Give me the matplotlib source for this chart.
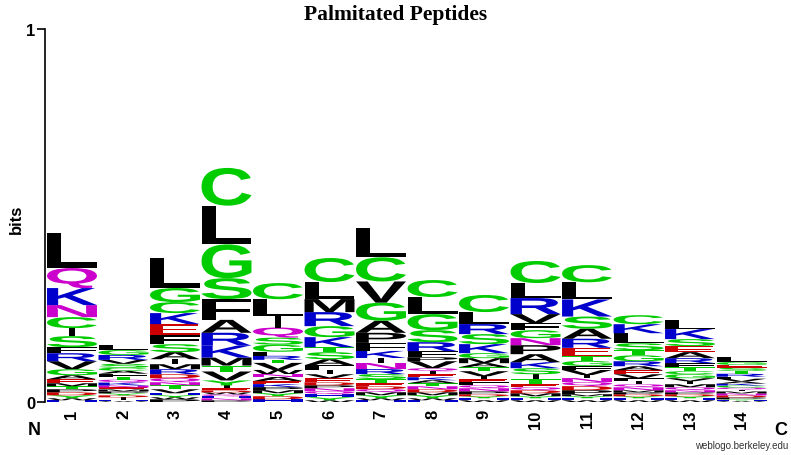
import matplotlib
matplotlib.use("Agg")
import matplotlib.pyplot as plt
from matplotlib.font_manager import FontProperties
from matplotlib.patches import PathPatch
from matplotlib.textpath import TextPath
from matplotlib.transforms import Affine2D

# information content per position (bits)
positions = list(range(1, 15))
column_bits = [0.453, 0.153, 0.386, 0.627, 0.319, 0.386, 0.466,
               0.327, 0.287, 0.378, 0.367, 0.233, 0.220, 0.121]

# residues per position, top of the stack first, with relative frequencies
letters_1 = "LQKNCISFRVGAEMTPDYWH"
weights_1 = [35, 20, 17, 12, 11, 8, 11, 6, 8, 8, 6, 4, 4, 3, 3, 3, 3, 3, 2, 2]
letters_2 = "LGRVSCAFTQKNEMPYDIHW"
weights_2 = [5, 5, 5, 4, 4, 3, 3, 3, 3, 3, 3, 2, 2, 2, 2, 2, 2, 3, 1, 1]
letters_3 = "LGCKEFSAIMRDQNTVHYWP"
weights_3 = [30, 14, 11, 11, 11, 9, 8, 7, 5, 5, 5, 4, 4, 3, 4, 4, 2, 2, 2, 3]
letters_4 = "CLGSFARKMTVYIEDWQHNP"
weights_4 = [38, 39, 34, 21, 21, 13, 13, 12, 8, 6, 9, 5, 3, 2, 2, 2, 2, 2, 2, 2]
letters_5 = "CLIQSGFRTVWNAEKPMYDH"
weights_5 = [16, 17, 11, 10, 7, 7, 4, 4, 3, 7, 4, 3, 4, 3, 3, 3, 3, 3, 3, 3]
letters_6 = "CLMRGKTSAFIVEDPNQHYW"
weights_6 = [24, 17, 13, 14, 11, 10, 5, 7, 6, 5, 4, 4, 4, 3, 3, 3, 3, 3, 3, 2]
letters_7 = "LCVGAPFKINRSTEDQMYWH"
weights_7 = [29, 24, 21, 18, 12, 10, 8, 7, 5, 6, 5, 5, 4, 3, 3, 3, 3, 3, 2, 2]
letters_8 = "CLGSRFPVQIEKATNDMYWH"
weights_8 = [17, 17, 16, 12, 9, 6, 4, 7, 3, 3, 3, 3, 3, 3, 3, 3, 3, 3, 2, 2]
letters_9 = "CLRSKGMATVIEFQNPDYHW"
weights_9 = [17, 12, 10, 10, 9, 5, 5, 4, 4, 5, 3, 3, 3, 3, 3, 3, 2, 2, 2, 2]
letters_10 = "CLRVFGNPAKSITEQDMYHW"
weights_10 = [22, 15, 16, 9, 7, 8, 7, 9, 8, 6, 6, 5, 5, 3, 3, 3, 3, 2, 2, 2]
letters_11 = "CLKSARETGFVINQDPMYHW"
weights_11 = [17, 17, 17, 12, 10, 9, 8, 5, 5, 4, 5, 3, 4, 4, 4, 4, 2, 2, 2, 2]
letters_12 = "CKLSTGRAEVFIQNMPDYHW"
weights_12 = [9, 9, 10, 7, 5, 6, 5, 4, 4, 4, 3, 3, 3, 3, 2, 2, 2, 2, 2, 2]
letters_13 = "LKSEARFTCGVIMQNPDYHW"
weights_13 = [9, 10, 7, 6, 6, 5, 4, 4, 3, 4, 3, 3, 3, 3, 2, 2, 2, 2, 2, 2]
letters_14 = "LGESTRFVAKCQIMNDPYHW"
weights_14 = [5, 3, 3, 3, 3, 3, 2, 3, 2, 2, 2, 2, 2, 2, 2, 2, 2, 1, 1, 1]

stack_letters = [letters_1, letters_2, letters_3, letters_4, letters_5, letters_6, letters_7,
                 letters_8, letters_9, letters_10, letters_11, letters_12, letters_13, letters_14]
stack_weights = [weights_1, weights_2, weights_3, weights_4, weights_5, weights_6, weights_7,
                 weights_8, weights_9, weights_10, weights_11, weights_12, weights_13, weights_14]

# chemistry colour scheme
COLORS = {}
for aa in "GSTYC":
    COLORS[aa] = "#00CC00"
for aa in "NQ":
    COLORS[aa] = "#CC00CC"
for aa in "KRH":
    COLORS[aa] = "#0000CC"
for aa in "DE":
    COLORS[aa] = "#CC0000"
for aa in "AVLIPWFM":
    COLORS[aa] = "#000000"

LOGO_FONT = FontProperties(family=["Liberation Sans", "DejaVu Sans"], weight="bold")
COL_WIDTH = 0.97


def draw_letter(ax, ch, x, y, w, h, color):
    tp = TextPath((0, 0), ch, size=1, prop=LOGO_FONT)
    bb = tp.get_extents()
    if ch == "I":
        w = w * 0.12
    tr = (Affine2D().translate(-bb.x0, -bb.y0)
          .scale(w / bb.width, h / bb.height)
          .translate(x - w / 2, y))
    ax.add_patch(PathPatch(tr.transform_path(tp), facecolor=color, edgecolor="none", lw=0))


fig = plt.figure(figsize=(7.91, 4.56), dpi=100)
ax = fig.add_axes([0.0569, 0.1156, 0.9166, 0.8197])
ax.set_xlim(0.476, 14.553)
ax.set_ylim(0, 1)

for pos, bits, letters, weights in zip(positions, column_bits, stack_letters, stack_weights):
    total = sum(weights)
    y = 0.0
    for ch, wt in reversed(list(zip(letters, weights))):
        h = bits * wt / total
        draw_letter(ax, ch, pos, y, COL_WIDTH, h, COLORS[ch])
        y += h

for side in ("top", "right", "bottom"):
    ax.spines[side].set_visible(False)
ax.spines["left"].set_linewidth(1.2)
ax.set_yticks([0, 1])
ax.set_yticklabels(["0", "1"], fontsize=12, fontweight="bold", family="Liberation Sans")
ax.tick_params(axis="y", length=6, width=1.2, pad=1)
ax.set_xticks(positions)
ax.set_xticklabels([str(p) for p in positions], rotation=90, fontsize=12,
                   fontweight="bold", family="Liberation Sans")
ax.tick_params(axis="x", length=0, pad=5)

fig.text(0.021, 0.518, "bits", rotation=90, ha="center", va="center", fontsize=12,
         fontweight="bold", family="Liberation Sans")
fig.text(0.5, 0.968, "Palmitated Peptides", ha="center", va="center", fontsize=15.5,
         fontweight="bold", family="Liberation Serif")
fig.text(0.0430, 0.0560, "N", ha="center", va="center", fontsize=13, fontweight="bold",
         family="Liberation Sans")
fig.text(0.9865, 0.0560, "C", ha="center", va="center", fontsize=13, fontweight="bold",
         family="Liberation Sans")
fig.text(0.9960, 0.022, "weblogo.berkeley.edu", ha="right", va="center", fontsize=7,
         color="#333333", family="Liberation Sans")

fig.savefig("out.png", dpi=100)
